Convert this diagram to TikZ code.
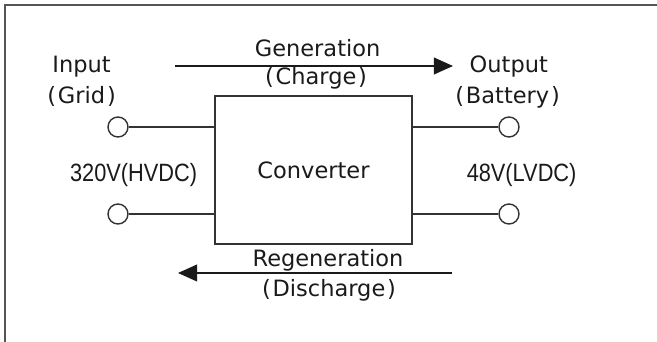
\documentclass[tikz,border=0pt]{standalone}
\usepackage{fontspec}
\setmainfont{DejaVu Sans}
\newfontfamily\narrowfont[FakeStretch=0.87]{Liberation Sans}
\usetikzlibrary{arrows.meta, positioning, calc}
\definecolor{c1}{HTML}{1A1A1A}
\definecolor{c2}{HTML}{333333}
\definecolor{framecolor}{HTML}{555555}

\begin{document}
\begin{tikzpicture}[
    every node/.style={font=\fontsize{16}{18}\selectfont, text=c1},
    conv/.style={
        rectangle, minimum width=4.925cm, minimum height=3.70cm,
        line width=1.2pt, draw=c2, fill=white, inner sep=0pt,
    },
    term/.style={
        circle, minimum size=0.5cm, inner sep=0pt,
        line width=1.0pt, draw=c2, fill=white,
    },
    lead/.style={line width=1.2pt, color=c2},
    arr/.style={-{Triangle[length=0.48cm, width=0.42cm]}, line width=1.2pt, color=c1},
    lab/.style={anchor=base, inner sep=0pt},
    volt/.style={anchor=base, inner sep=0pt, font=\narrowfont\fontsize{17.8}{20}\selectfont},
]
\useasboundingbox (0,0) rectangle (16.425, 8.55);

% ---------------------------------------------------------------- frame
\draw[framecolor, line width=1.1pt] (0.125, -0.2) -- (0.125, 8.425) -- (16.6, 8.425);

% ---------------------------------------------------------------- converter
\node[conv] (box) at (7.8375, 4.30) {Converter};

% ---------------------------------------------------------------- terminals
\node[term] (inH)  at (2.95, 5.375) {};
\node[term] (inL)  at (2.95, 3.20) {};
\node[term] (outH) at (12.725, 5.375) {};
\node[term] (outL) at (12.725, 3.20) {};

\draw[lead] (inH.east) -- (inH.east -| box.west);
\draw[lead] (inL.east) -- (inL.east -| box.west);
\draw[lead] (outH.west -| box.east) -- (outH.west);
\draw[lead] (outL.west -| box.east) -- (outL.west);

% ---------------------------------------------------------------- side labels
\node[lab] (inT)   at (2.04, 6.725) {Input};
\node[lab] (inS)   at (2.04, 5.95) {(\kern0.08em Grid\kern0.08em)};
\node[lab] (outT)  at (12.72, 6.725) {Output};
\node[lab] (outS)  at (12.69, 5.95) {(\kern0.08em Battery\kern0.08em)};
\node[volt] (inV)  at (3.34, 4.00) {320V(HVDC)};
\node[volt] (outV) at (13.04, 4.00) {48V(LVDC)};

% ---------------------------------------------------------------- power flow
\coordinate (genS) at (4.375, 6.90);
\coordinate (genE) at (11.325, 6.90);
\draw[arr] (genS) -- (genE);
\node[lab] (genT) at (7.94, 7.125) {Generation};
\node[lab] (genC) at (7.90, 6.425) {(\kern0.08em Charge\kern0.08em)};

\coordinate (regS) at (11.30, 1.725);
\coordinate (regE) at (4.45, 1.725);
\draw[arr] (regS) -- (regE);
\node[lab] (regT) at (8.20, 1.875) {Regeneration};
\node[lab] (regD) at (8.225, 1.125) {(\kern0.08em Discharge\kern0.08em)};

\end{tikzpicture}
\end{document}
